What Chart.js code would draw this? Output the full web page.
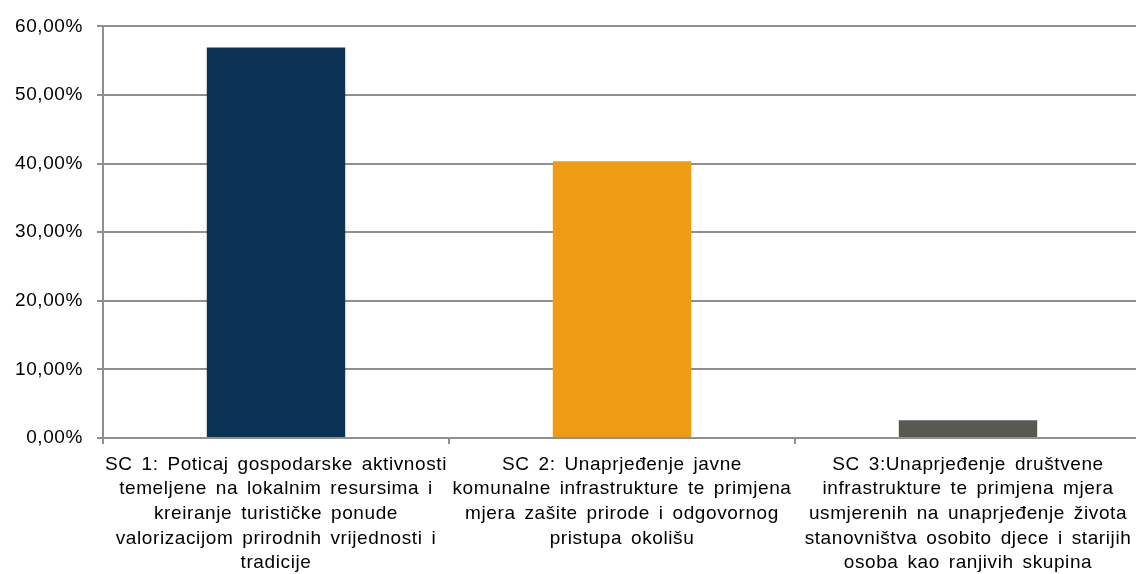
<!DOCTYPE html>
<html>
<head>
<meta charset="utf-8">
<script src="https://cdn.jsdelivr.net/npm/chart.js@4/dist/chart.umd.min.js"></script>
<style>
  html, body { margin: 0; padding: 0; background: #fff; overflow: hidden; }
  #wrap { width: 1141px; height: 574px; }
</style>
</head>
<body>
<div id="wrap"><canvas id="goalsChart" width="1141" height="574"></canvas></div>
<script>
var categories = [
  ["SC 1: Poticaj gospodarske aktivnosti", "temeljene na lokalnim resursima i", "kreiranje turističke ponude", "valorizacijom prirodnih vrijednosti i", "tradicije"],
  ["SC 2: Unaprjeđenje javne", "komunalne infrastrukture te primjena", "mjera zašite prirode i odgovornog", "pristupa okolišu"],
  ["SC 3:Unaprjeđenje društvene", "infrastrukture te primjena mjera", "usmjerenih na unaprjeđenje života", "stanovništva osobito djece i starijih", "osoba kao ranjivih skupina"]
];
var shares = [56.9, 40.35, 2.6];
var barColors = ["#0b3254", "#ee9c14", "#595853"];
var yTicks = [0, 10, 20, 30, 40, 50, 60];

var gridGray = "#8f8f8f";
var labelFont = { family: "Liberation Sans, Arial, sans-serif", size: 19, lineHeight: 1.3 };

// the original text is set a bit looser than the canvas default
var spacing = {
  id: "spacing",
  beforeLayout: function (chart) { chart.ctx.letterSpacing = "0.6px"; chart.ctx.wordSpacing = "3px"; },
  beforeDraw: function (chart) { chart.ctx.letterSpacing = "0.6px"; chart.ctx.wordSpacing = "3px"; }
};

new Chart("goalsChart", {
  type: "bar",
  data: {
    labels: categories,
    datasets: [{
      data: shares,
      backgroundColor: barColors,
      barPercentage: 0.4,
      categoryPercentage: 1.0
    }]
  },
  plugins: [spacing],
  options: {
    responsive: false,
    animation: false,
    layout: { padding: { top: 23, left: 0, right: 0, bottom: 0 } },
    plugins: {
      legend: { display: false },
      tooltip: { enabled: false }
    },
    scales: {
      x: {
        grid: { drawOnChartArea: false, drawTicks: true, tickLength: 6, color: gridGray, lineWidth: 2 },
        border: { color: gridGray, width: 2 },
        ticks: { color: "#000", font: labelFont, maxRotation: 0, autoSkip: false, padding: 8 },
        afterFit: function (scale) { scale.height = 136; }
      },
      y: {
        min: yTicks[0],
        max: yTicks[yTicks.length - 1],
        grid: { color: gridGray, lineWidth: 2, tickLength: 6, drawTicks: true },
        border: { color: gridGray, width: 2 },
        ticks: {
          stepSize: 10,
          color: "#000",
          font: labelFont,
          padding: 14,
          callback: function (v) { return v.toFixed(2).replace(".", ",") + "%"; }
        },
        afterFit: function (scale) { scale.width = 103; }
      }
    }
  }
});
</script>
</body>
</html>
